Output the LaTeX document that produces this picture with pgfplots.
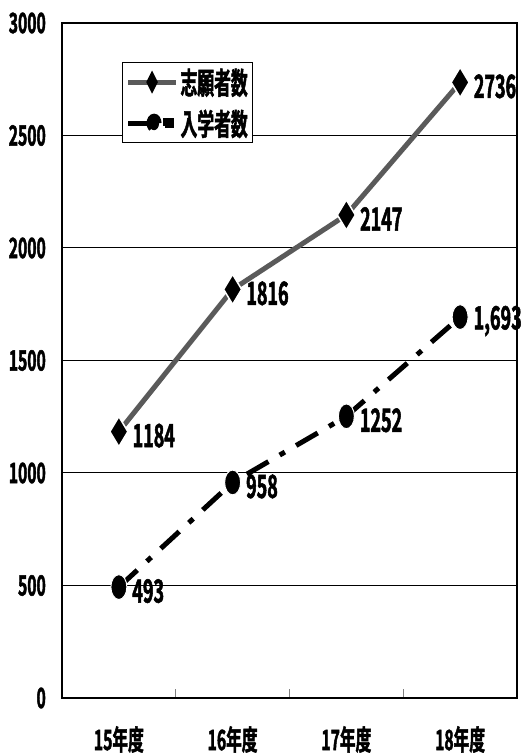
\documentclass[border=0pt]{standalone}
\usepackage{fontspec}
\usepackage{pgfplots}
\pgfplotsset{compat=1.18}
\newfontfamily\jp{Noto Sans CJK JP Bold}[FakeStretch=0.56, FakeBold=1.6]
\definecolor{linegray}{HTML}{5A5A5A}

\begin{document}
\begin{tikzpicture}
\path[use as bounding box] (-62pt,-55pt) rectangle (463pt,698pt);
\begin{axis}[
  scale only axis, width=455pt, height=675pt,
  xmin=-0.5, xmax=3.5, ymin=0, ymax=3000,
  clip=false,
  xtick={0,1,2,3},
  xticklabels={15年度,16年度,17年度,18年度},
  minor xtick={0.5,1.5,2.5},
  ytick={0,500,...,3000},
  ymajorgrids,
  grid style={black, line width=1pt},
  major tick length=0pt, minor tick length=9pt,
  tick align=inside, xtick pos=bottom, ytick pos=left,
  minor tick style={gray, line width=1pt},
  axis line style={black, line width=1.3pt},
  /pgf/number format/assume math mode=true,
  /pgf/number format/1000 sep={},
  ticklabel style={font=\jp\fontsize{28}{28}\selectfont},
  yticklabel style={inner sep=0pt, xshift=-16pt},
  xticklabel style={inner sep=0pt, yshift=-28pt},
  legend style={at={(axis description cs:0.132,0.942)}, anchor=north west,
    draw=black, line width=1pt, inner xsep=3pt, inner ysep=4pt,
    font=\jp\fontsize{30}{30}\selectfont, row sep=10pt},
  legend cell align=left,
  every node near coord/.style={anchor=west, inner sep=0pt, xshift=13pt,
    yshift=-4pt, font=\jp\fontsize{32}{32}\selectfont, black},
]
% 志願者数
\addplot[linegray, line width=5pt, mark=diamond*, mark size=15pt,
  mark options={solid, fill=black, draw=white, line width=1.5pt, xscale=0.8},
  nodes near coords, point meta=explicit symbolic,
  legend image code/.code={
    \draw[linegray, line width=5pt] (0pt,0pt) -- (48pt,0pt);
    \fill[black] (24pt,-6pt) -- (27pt,0pt) -- (24pt,6pt) -- (21pt,0pt) -- cycle;
  }] table[meta=label] {
x y label
0 1184 1184
1 1816 1816
2 2147 2147
3 2736 2736
};
\addlegendentry{志願者数}

% 入学者数
\addplot[black, line width=5pt, dash pattern=on 25pt off 13pt on 6pt off 13pt,
  mark=*, mark size=8pt,
  mark options={solid, fill=black, draw=white, line width=1pt, yscale=1.55},
  nodes near coords, point meta=explicit symbolic,
  legend image code/.code={
    \draw[black, line width=5pt] (0pt,0pt) -- (24pt,0pt);
    \fill[black] (26pt,0pt) ellipse (5pt and 7pt);
    \fill[black] (37pt,-2.5pt) rectangle (43pt,2.5pt);
  }] table[meta=label] {
x y label
0 493 493
1 958 958
2 1252 1252
3 1693 {1,693}
};
\addlegendentry{入学者数}
\end{axis}
\end{tikzpicture}
\end{document}
